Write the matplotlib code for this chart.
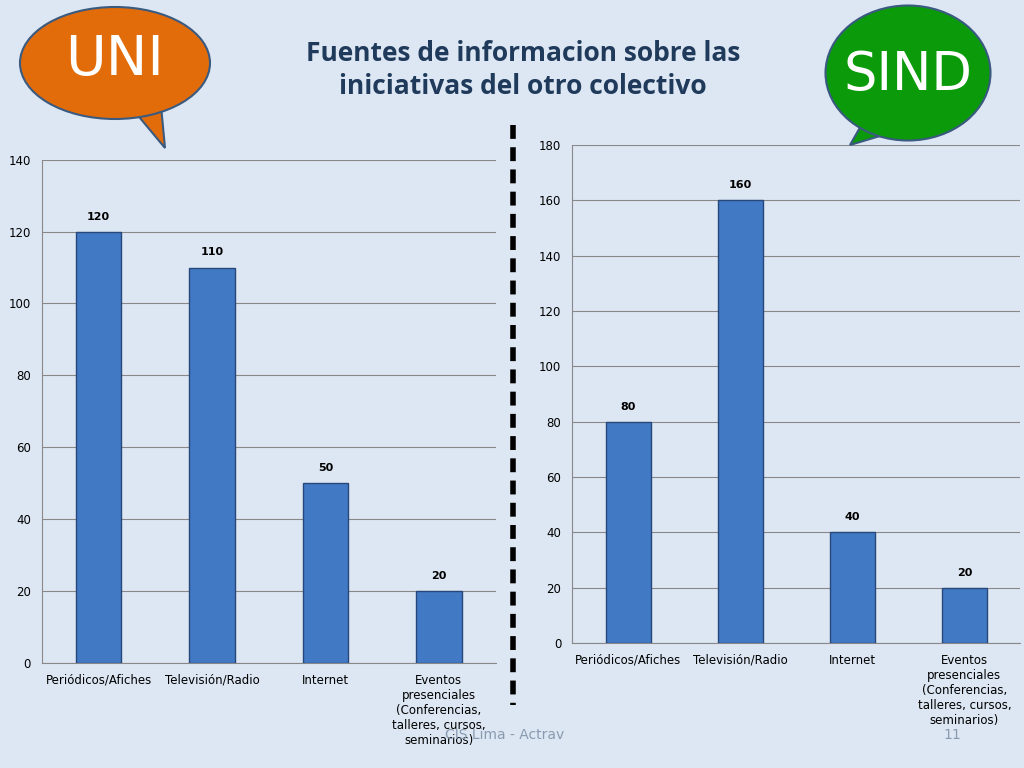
import matplotlib
matplotlib.use("Agg")
import matplotlib.pyplot as plt
from matplotlib.patches import Ellipse, Polygon
import numpy as np

categories = ["Periódicos/Afiches", "Televisión/Radio", "Internet",
              "Eventos\npresenciales\n(Conferencias,\ntalleres, cursos,\nseminarios)"]
uni_values = [120, 110, 50, 20]
sind_values = [80, 160, 40, 20]

bg = "#dde7f3"
fig = plt.figure(figsize=(10.24, 7.68), dpi=100, facecolor=bg)

def draw(ax, vals, ymax):
    ax.set_facecolor(bg)
    x = np.arange(len(vals))
    ax.bar(x, vals, width=0.4, color="#4279c4", edgecolor="#25477a", linewidth=1, zorder=3)
    for xi, v in zip(x, vals):
        ax.text(xi, v + ymax*0.02, str(v), ha="center", va="bottom", fontsize=8, fontweight="bold")
    ax.set_ylim(0, ymax)
    ax.set_xlim(-0.5, len(vals) - 0.5)
    ax.set_yticks(np.arange(0, ymax + 1, 20))
    ax.yaxis.grid(True, color="#888888", linewidth=0.8, zorder=0)
    ax.set_xticks(x)
    ax.set_xticklabels(categories, fontsize=8.5)
    ax.tick_params(axis="both", labelsize=8.5, length=0, pad=8)
    for s in ["top", "right"]:
        ax.spines[s].set_visible(False)
    ax.spines["left"].set_color("#888888")
    ax.spines["bottom"].set_color("#888888")

ax1 = fig.add_axes([0.041, 0.137, 0.443, 0.655])
draw(ax1, uni_values, 140)
ax2 = fig.add_axes([0.559, 0.163, 0.4375, 0.648])
draw(ax2, sind_values, 180)

ov = fig.add_axes([0, 0, 1, 1], zorder=5)
ov.set_xlim(0, 1024); ov.set_ylim(768, 0); ov.axis("off")
ov.patch.set_alpha(0)
ov.add_patch(Polygon([[125, 100], [165, 148], [160, 95]], closed=True, fc="#e36c0a", ec="#3a5a80", lw=1.5))
ov.add_patch(Ellipse((115, 63), 190, 112, fc="#e36c0a", ec="#3a5a80", lw=1.5))
ov.text(115, 60, "UNI", color="white", fontsize=40, ha="center", va="center")
ov.add_patch(Polygon([[870, 110], [850, 145], [900, 130]], closed=True, fc="#0a9a0a", ec="#3a5a80", lw=1.5))
ov.add_patch(Ellipse((908, 73), 165, 135, fc="#0a9a0a", ec="#3a5a80", lw=1.5))
ov.text(908, 75, "SIND", color="white", fontsize=38, ha="center", va="center")
ov.text(523, 70, "Fuentes de informacion sobre las\niniciativas del otro colectivo",
        ha="center", va="center", fontsize=19, fontweight="bold", color="#1f3a5a",
        linespacing=1.3, family="Open Sans", fontstretch="condensed")
ov.plot([513, 513], [125, 705], color="black", lw=4, linestyle=(0, (2.5, 1.5)))
ov.text(505, 735, "CIS Lima - Actrav", color="#8a9bb0", fontsize=10, ha="center", va="center")
ov.text(952, 735, "11", color="#8a9bb0", fontsize=10, ha="center", va="center")

fig.savefig("out.png", dpi=100, facecolor=bg)
